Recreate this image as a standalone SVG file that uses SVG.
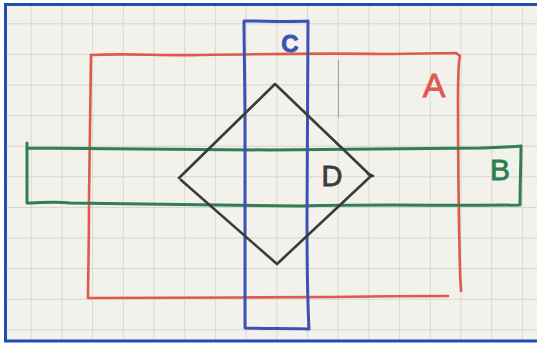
<svg xmlns="http://www.w3.org/2000/svg" width="537" height="344" viewBox="0 0 537 344">
  <defs>
    <pattern id="grid" x="0" y="23.3" width="30.7" height="30.6" patternUnits="userSpaceOnUse">
      <path d="M0,0 H30.7 M0,0 V30.6" fill="none" stroke="#cdcbc6" stroke-width="1.3"/>
    </pattern>
  </defs>
  <style>
    .shape { fill: none; stroke-linecap: round; stroke-linejoin: round; }
    .red { stroke: #dd5a4c; stroke-width: 2.6; }
    .blue { stroke: #3a52b4; stroke-width: 3; }
    .green { stroke: #2f7f52; stroke-width: 3; }
    .black { stroke: #3b3b39; stroke-width: 2.6; }
    .lbl { font-family: "Liberation Sans", Arial, sans-serif; text-anchor: middle; stroke-width: 0.8; }
  </style>
  <rect x="0" y="0" width="537" height="344" fill="#ffffff"/>
  <rect x="6" y="5" width="531" height="335" fill="#f3f1ec"/>
  <rect x="6" y="5" width="531" height="335" fill="url(#grid)"/>
  <path d="M338.5,60 V118" stroke="#aaa8a4" stroke-width="1.2" fill="none"/>

  <g id="nodeA">
    <path class="shape red" d="M91,55 C130,53 160,56 200,55 C260,54 320,53 380,54 C420,54 445,53 456,53 L460,56 C459,60 458,70 458,100 C458,160 459,230 460,270 C460,280 461,286 461,291"/>
    <path class="shape red" d="M91,55 C90,100 90,150 89,200 C89,250 88,280 88,298 C150,297 250,298 330,297 C390,296 430,296 448,296"/>
    <text class="lbl" x="434" y="97" font-size="34" fill="#dd5a4c" stroke="#dd5a4c">A</text>
  </g>

  <g id="nodeB">
    <path class="shape green" d="M27,143 L27,148 C100,148 180,149 270,150 C350,149 430,149 480,148 C500,147 512,147 521,146 C521,160 520,190 520,205 C450,206 380,204 300,206 C200,205 120,204 70,203 C55,201 40,203 27,203 C27,185 27,165 27,148"/>
    <text class="lbl" x="500" y="180" font-size="30" fill="#2f7f52" stroke="#2f7f52">B</text>
  </g>

  <g id="nodeC">
    <path class="shape blue" d="M244,21 C265,21 290,22 308,21 C308,80 307,150 307,220 C307,270 308,310 309,329 C290,328 265,329 245,328 C245,270 245,200 245,130 C245,80 244,45 244,21"/>
    <text class="lbl" x="290" y="52" font-size="24" font-weight="bold" fill="#3a52b4" stroke="#3a52b4">C</text>
  </g>

  <g id="nodeD">
    <path class="shape black" d="M179,178 L275,84 L371,176 L277,264 L181,180"/>
    <path class="shape black" d="M368,174 L373,176"/>
    <text class="lbl" x="332" y="186" font-size="29" fill="#3b3b39" stroke="#3b3b39">D</text>
  </g>

  <g id="connectors"></g>

  <path d="M4,4.5 H537 M5.5,4 V341 M4,341 H537" fill="none" stroke="#1f4fb3" stroke-width="3"/>
</svg>
